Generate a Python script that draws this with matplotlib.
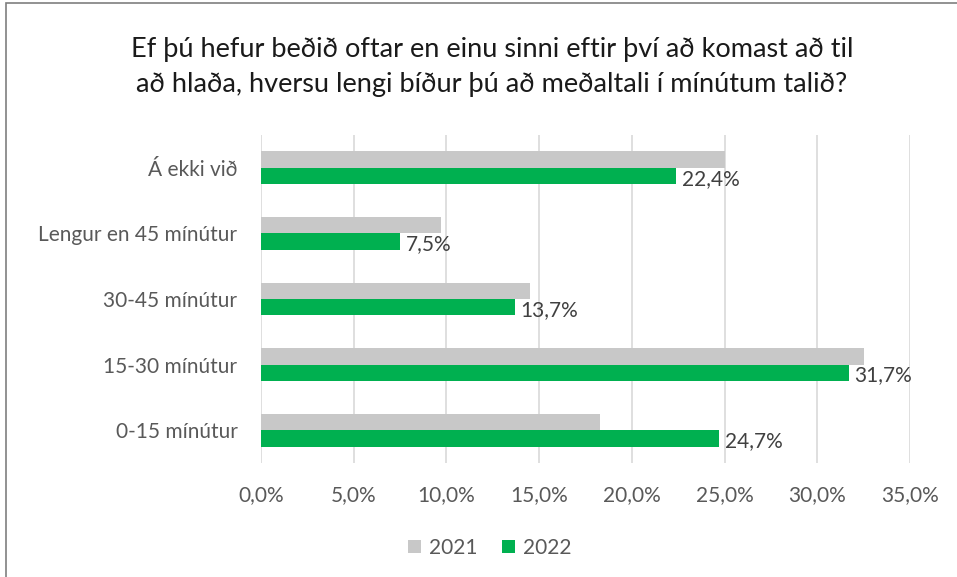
import numpy as np
import matplotlib.pyplot as plt
from matplotlib.patches import Rectangle

plt.rcParams['font.family'] = ['Lato', 'DejaVu Sans']

# Gögn
flokkar = ['0-15 mínútur', '15-30 mínútur', '30-45 mínútur', 'Lengur en 45 mínútur', 'Á ekki við']
gildi_2021 = [18.3, 32.5, 14.5, 9.7, 25.0]
gildi_2022 = [24.7, 31.7, 13.7, 7.5, 22.4]
x_ticks = [0, 5, 10, 15, 20, 25, 30, 35]

fig = plt.figure(figsize=(9.57, 5.77), dpi=100)
ax = fig.add_axes([261 / 957, 1 - 463 / 577, 649 / 957, 328 / 577])

y = np.arange(len(flokkar))
h = 0.25
ax.barh(y + h / 2, gildi_2021, height=h, color='#C8C8C8', label='2021', zorder=3)
ax.barh(y - h / 2, gildi_2022, height=h, color='#00B050', label='2022', zorder=3)

# Merkingar á grænu súlurnar
for yi, v in zip(y, gildi_2022):
    ax.text(v + 0.3, yi - h / 2 - 0.04, f'{v:.1f}%'.replace('.', ','), va='center', ha='left',
            fontsize=15, color='#404040')

ax.set_xlim(0, 35)
ax.set_ylim(-0.5, len(flokkar) - 0.5)
ax.set_xticks(x_ticks)
ax.set_xticklabels([f'{t:.1f}%'.replace('.', ',') for t in x_ticks])
ax.set_yticks(y)
ax.set_yticklabels(flokkar)
ax.tick_params(axis='x', length=0, pad=16, labelsize=15, labelcolor='#595959')
ax.tick_params(axis='y', length=0, pad=17, labelsize=15, labelcolor='#595959')
ax.grid(axis='x', color='#D9D9D9', linewidth=1.2, zorder=0)
for s in ax.spines.values():
    s.set_visible(False)

fig.text(492 / 957, 1 - 67 / 577,
         'Ef þú hefur beðið oftar en einu sinni eftir því að komast að til\n'
         'að hlaða, hversu lengi bíður þú að meðaltali í mínútum talið?',
         ha='center', va='center', fontsize=19.5, color='#1a1a1a', linespacing=1.5)

fig.legend(loc='center', bbox_to_anchor=(490 / 957, 1 - 548 / 577), ncol=2, frameon=False,
           fontsize=15, handlelength=0.6, handleheight=0.6, columnspacing=1.2,
           handletextpad=0.4, labelcolor='#595959')

# Rammi utan um myndina
fig.patches.append(Rectangle((6 / 957, -0.1), 1.2, 1 - 3 / 577 + 0.1, transform=fig.transFigure,
                             fill=False, edgecolor='#7f7f7f', linewidth=1.2))

fig.savefig('out.png', dpi=100)
